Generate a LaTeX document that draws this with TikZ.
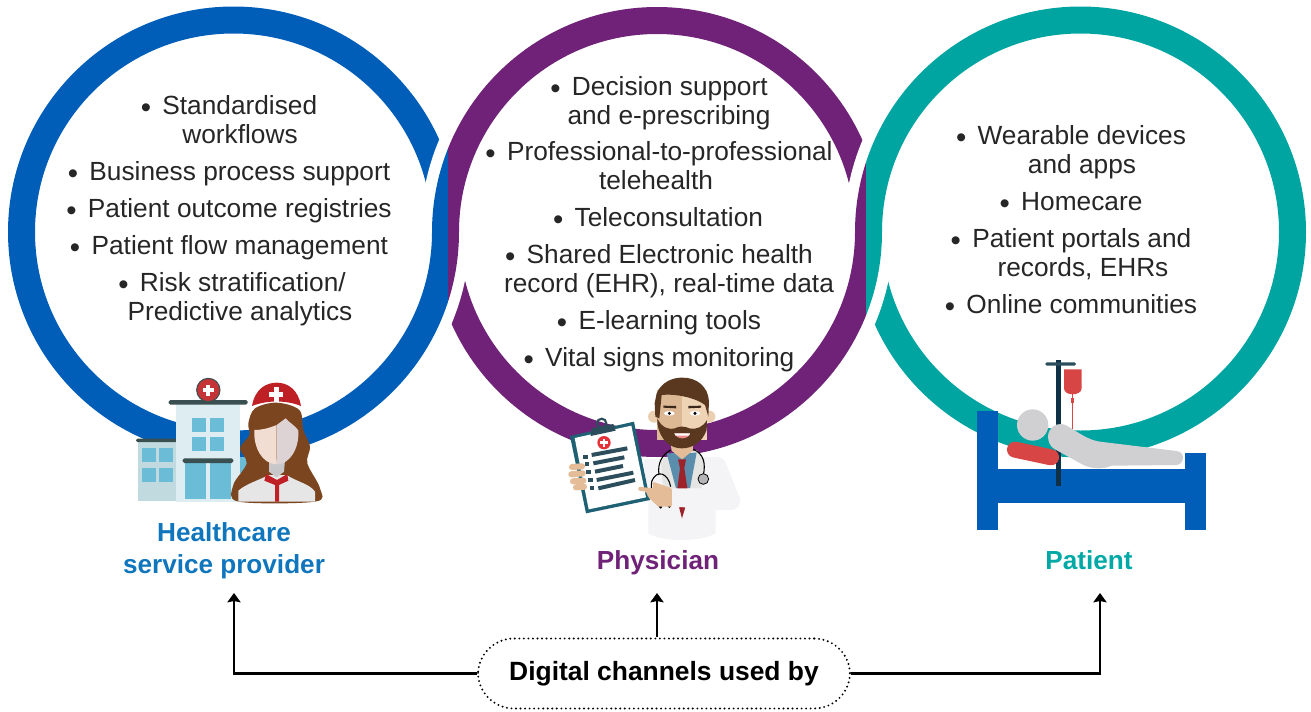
\documentclass[tikz,border=0pt]{standalone}
\usepackage{fontspec}
\usetikzlibrary{arrows.meta}
\setmainfont{Liberation Sans}
\newfontfamily\lightfont{Liberation Sans}[FakeBold=-0.12]
\definecolor{cblue}{HTML}{005EB8}
\definecolor{cpurple}{HTML}{6F2278}
\definecolor{cteal}{HTML}{00A5A1}
\definecolor{lblue}{HTML}{0F75BC}
\definecolor{lteal}{HTML}{00A9A5}
\definecolor{winb}{HTML}{6BBCD6}
\definecolor{darkbar}{HTML}{3A5050}
\definecolor{redc}{HTML}{BE2026}
\definecolor{hair}{HTML}{7A451F}
\definecolor{skin}{HTML}{E4BC98}
\definecolor{coat}{HTML}{F4F4F6}
\definecolor{clipb}{HTML}{1F6174}
\definecolor{ivred}{HTML}{D84545}
\definecolor{pgrey}{HTML}{D0D0D2}
\definecolor{beard}{HTML}{5A3820}
\definecolor{bldA}{HTML}{C0DADF}
\definecolor{bldB}{HTML}{DDEDF1}
\definecolor{crossred}{HTML}{C43437}
\definecolor{nbody}{HTML}{E6E6E6}
\definecolor{nneck}{HTML}{C8C8CA}
\definecolor{nfaceL}{HTML}{F2DDD2}
\definecolor{nfaceR}{HTML}{DDD2D4}
\definecolor{nline}{HTML}{C9A99A}
\definecolor{lapel}{HTML}{E5E5E3}
\definecolor{shirt}{HTML}{5A8EAC}
\definecolor{dtie}{HTML}{9E2229}
\definecolor{ear}{HTML}{EAD0B0}
\definecolor{chest}{HTML}{B5B5B7}
\definecolor{faceL}{HTML}{DDB894}
\definecolor{faceR}{HTML}{EED4B4}
\definecolor{mouth}{HTML}{EE8A8A}
\definecolor{brow}{HTML}{3A281A}
\definecolor{clipdk}{HTML}{2C4E5C}
\definecolor{brightred}{HTML}{E53238}
\definecolor{pole}{HTML}{0F3045}
\newcommand{\bu}{\raisebox{-2.5pt}{\fontsize{22}{22}\selectfont •}\hspace{8.5pt}}
\tikzset{
  itemtxt/.style={anchor=base,inner sep=0pt,font=\lightfont\fontsize{19.7}{21}\selectfont,text=black!85},
  lbl/.style={anchor=base,inner sep=0pt,font=\fontsize{19.6}{21}\selectfont\bfseries},
  conn/.style={draw=black,line width=1.9pt,-{Stealth[length=7pt,width=10pt,inset=1pt]}},
  zoomunits/.style={x=.25pt,y=-.25pt},
}
\begin{document}
\begin{tikzpicture}[x=.75pt,y=-.75pt]
\useasboundingbox (0,0) rectangle (1311,711);
\def\ba{233.5}\def\pa{657}\def\ta{1080.5}\def\cy{232}
\def\Ro{225.5}\def\Ri{198.5}\def\Po{225}\def\Pi{198}\def\Gu{236.5}
% BLUE ring
\fill[cblue,even odd rule] (\ba,\cy) circle[radius=\Ro] (\ba,\cy) circle[radius=\Ri];
\begin{scope}
  \clip (300,0) rectangle (700,\cy);
  \fill[white] (\pa,\cy) circle[radius=\Gu];
\end{scope}
\begin{scope}
  \clip (300,0) rectangle (448,\cy+.5);
  \fill[cblue] (\pa,\cy) circle[radius=\Po];
\end{scope}
% PURPLE ring
\begin{scope}
  \clip (448,0) rectangle (1000,711);
  \fill[cpurple,even odd rule] (\pa,\cy) circle[radius=\Po] (\pa,\cy) circle[radius=\Pi];
  \begin{scope}
    \clip (448,\cy) rectangle (700,711);
    \fill[white] (\ba,\cy) circle[radius=\Gu];
    \fill[cpurple] (\ba,\cy) circle[radius=\Ro];
  \end{scope}
\end{scope}
\begin{scope}
  \clip (700,0) rectangle (1100,\cy);
  \fill[white] (\ta,\cy) circle[radius=\Gu];
\end{scope}
\begin{scope}
  \clip (700,0) rectangle (866,\cy+.5);
  \fill[cpurple] (\ta,\cy) circle[radius=\Ro];
\end{scope}
% TEAL ring
\begin{scope}
  \clip (866,0) rectangle (1311,711);
  \fill[cteal,even odd rule] (\ta,\cy) circle[radius=\Ro] (\ta,\cy) circle[radius=\Ri];
  \begin{scope}
    \clip (866,\cy) rectangle (1100,711);
    \fill[white] (\pa,\cy) circle[radius=\Gu];
    \fill[cteal] (\pa,\cy) circle[radius=\Po];
  \end{scope}
\end{scope}
% Blue items
\node[itemtxt] (b1a) at (229,114) {\bu Standardised};
\node[itemtxt] (b1b) at (240,143) {workflows};
\node[itemtxt] (b2) at (229,180) {\bu Business process support};
\node[itemtxt] (b3) at (229,217) {\bu Patient outcome registries};
\node[itemtxt] (b4) at (229,254) {\bu Patient flow management};
\node[itemtxt] (b5a) at (232,291) {\bu Risk stratification/};
\node[itemtxt] (b5b) at (240,320) {Predictive analytics};
% Purple items
\node[itemtxt] (p1a) at (659,95) {\bu Decision support};
\node[itemtxt] (p1b) at (669,124) {and e-prescribing};
\node[itemtxt] (p2a) at (659,160) {\bu Professional-to-professional};
\node[itemtxt] (p2b) at (656,189) {telehealth};
\node[itemtxt] (p3) at (658,226) {\bu Teleconsultation};
\node[itemtxt] (p4a) at (659,263) {\bu Shared Electronic health};
\node[itemtxt] (p4b) at (669,292) {record (EHR), real-time data};
\node[itemtxt] (p5) at (659,329) {\bu E-learning tools};
\node[itemtxt] (p6) at (659,366) {\bu Vital signs monitoring};
% Teal items
\node[itemtxt] (t1a) at (1071,144) {\bu Wearable devices};
\node[itemtxt] (t1b) at (1082,173) {and apps};
\node[itemtxt] (t2) at (1071,210) {\bu Homecare};
\node[itemtxt] (t3a) at (1071,247) {\bu Patient portals and};
\node[itemtxt] (t3b) at (1083,276) {records, EHRs};
\node[itemtxt] (t4) at (1071,313) {\bu Online communities};
% Labels
\node[lbl,text=lblue] (l1a) at (224,541) {Healthcare};
\node[lbl,text=lblue] (l1b) at (224,573) {service provider};
\node[lbl,text=cpurple] (l2) at (658,569) {Physician};
\node[lbl,text=lteal] (l3) at (1089,569) {Patient};
% Bottom box
\node[draw=black,line width=1.6pt,line cap=round,dash pattern=on 0pt off 3.4pt,rounded corners=27pt,
  minimum width=279pt,minimum height=52.5pt,inner sep=0pt,font=\fontsize{19.8}{21}\selectfont\bfseries]
  (box) at (664,673.5) {\raisebox{-2.5pt}{Digital channels used by}};
\coordinate (al) at (234,593);
\coordinate (am) at (657,593);
\coordinate (ar) at (1100,593);
\draw[conn] (box.west) -| (al);
\draw[conn] (box.north -| am) -- (am);
\draw[conn] (box.east) -| (ar);
% Hospital + nurse (zoom coordinates)
\begin{scope}[xshift=90pt,yshift=-270pt,zoomunits]
  \fill[bldA] (54,245) rectangle (170,422);
  \fill[darkbar,rounded corners=1pt] (48,236) rectangle (170,246);
  \foreach \a in {66,117}\foreach \b in {264,324}{\fill[winb] (\a,\b) rectangle +(42,42);}
  \fill[bldB] (168,130) rectangle (360,425);
  \fill[darkbar,rounded corners=1.2pt] (146,120) rectangle (383,134);
  \foreach \a in {216,270}\foreach \b in {174,231}{\fill[winb] (\a,\b) rectangle +(42,42);}
  \fill[winb] (195,305) rectangle (258,417);
  \fill[winb] (270,305) rectangle (333,417);
  \fill[darkbar,rounded corners=1.2pt] (188,295) rectangle (340,309);
  \fill[winb] (360,290) rectangle (380,340);
  \draw[darkbar,line width=.8pt,fill=crossred] (265,90) circle[radius=35];
  \fill[white] (249,84) rectangle (281,97);
  \fill[white] (258,74) rectangle (271,107);
  % nurse
  \fill[hair] plot[smooth cycle,tension=.55] coordinates {(470,128) (405,145) (385,190) (388,225) (360,265) (380,310) (340,375) (356,425) (585,425) (600,385) (562,310) (570,260) (550,210) (538,150)};
  \fill[nbody] (355,425) -- (355,392) .. controls (380,370) and (420,360) .. (445,345) -- (500,345) .. controls (530,365) and (570,372) .. (585,395) -- (585,425) -- cycle;
  \fill[nneck] (447,300) -- (495,300) -- (492,335) -- (470,352) -- (447,335) -- cycle;
  \fill[nfaceL] (470,195) .. controls (445,205) and (425,210) .. (403,210) .. controls (400,260) and (425,312) .. (470,313) -- cycle;
  \fill[nfaceR] (470,195) -- (497,175) .. controls (510,190) and (530,200) .. (535,212) .. controls (538,265) and (510,313) .. (470,313) -- cycle;
  \draw[nline,line width=.4pt] (470,195) -- (470,295);
  \fill[redc] (438,342) -- (471,360) -- (502,342) -- (505,362) -- (477,375) -- (477,425) -- (465,425) -- (465,375) -- (433,362) -- cycle;
  \fill[redc] (396,138) .. controls (405,85) and (440,68) .. (470,68) .. controls (505,68) and (535,90) .. (543,138) .. controls (500,120) and (440,120) .. (396,138) -- cycle;
  \fill[white] (447,95) rectangle (490,110);
  \fill[white] (461,80) rectangle (476,125);
\end{scope}
% Doctor
\begin{scope}[xshift=412.5pt,yshift=-270pt,zoomunits]
  \fill[coat] (280,298) -- (505,290) .. controls (520,295) and (525,300) .. (530,315) -- (570,415) .. controls (572,440) and (560,450) .. (540,450) -- (497,450) -- (497,520) .. controls (470,535) and (430,540) .. (397,540) .. controls (360,540) and (320,535) .. (295,520) -- (295,420) -- cycle;
  \fill[lapel] (332,295) -- (440,270) -- (465,300) -- (455,385) -- (340,385) -- cycle;
  \fill[shirt] (350,280) -- (440,278) -- (420,385) -- (378,385) -- cycle;
  \fill[dtie] (384,298) -- (408,298) -- (403,325) -- (412,385) -- (405,445) -- (396,475) -- (388,445) -- (382,385) -- (390,325) -- cycle;
  \fill[ear] (312,170) circle[radius=18];
  \fill[ear] (478,170) circle[radius=18];
  \fill[skin] (362,250) -- (430,250) -- (428,272) -- (396,298) -- (365,272) -- cycle;
  \draw[black,line width=.8pt] (362,270) .. controls (335,285) and (322,310) .. (327,345);
  \draw[black,line width=.8pt] (430,268) .. controls (460,280) and (468,310) .. (460,345);
  \draw[black,line width=.8pt] (362,380) .. controls (355,340) and (320,325) .. (305,365) .. controls (300,400) and (315,430) .. (330,440);
  \fill[black] (332,441) circle[radius=5];
  \fill[black] (358,439) circle[radius=5];
  \draw[black,line width=.6pt,fill=chest] (460,357) circle[radius=16];
  \fill[faceL] (322,90) rectangle (396,240);
  \fill[faceR] (396,90) rectangle (472,240);
  \fill[beard] (322,175) .. controls (335,205) and (360,210) .. (375,205) .. controls (385,198) and (405,198) .. (418,205) .. controls (440,210) and (460,200) .. (471,180) -- (470,210) .. controls (455,250) and (425,265) .. (395,265) .. controls (360,265) and (330,240) .. (322,190) -- cycle;
  \fill[mouth] (373,220) -- (420,220) .. controls (415,240) and (380,240) .. (373,220) -- cycle;
  \fill[white] (373,220) -- (420,220) -- (417,227) -- (377,227) -- cycle;
  \fill[beard] (320,100) .. controls (335,65) and (370,52) .. (397,53) .. controls (440,52) and (475,80) .. (477,125) -- (475,170) -- (465,135) .. controls (440,115) and (380,100) .. (335,105) -- (328,175) -- (316,170) -- (314,130) -- cycle;
  \fill[brow] (340,137) -- (378,138) -- (378,145) -- (340,143) -- cycle;
  \fill[brow] (415,138) -- (453,137) -- (453,143) -- (415,145) -- cycle;
  \fill[white] (358,160) ellipse[x radius=16,y radius=7];
  \fill[white] (435,160) ellipse[x radius=16,y radius=7];
  \fill[black] (358,160) circle[radius=5];
  \fill[black] (435,160) circle[radius=5];
  % clipboard
  \fill[clipb] (60,228) -- (252,185) -- (300,420) -- (108,460) -- cycle;
  \fill[white] (74,234) -- (244,197) -- (288,412) -- (116,448) -- cycle;
  \draw[clipdk,line width=1.6pt] (155,190) circle[radius=14];
  \fill[clipdk] (125,205) -- (190,192) -- (197,212) -- (122,228) -- cycle;
  \fill[brightred] (162,248) circle[radius=20];
  \fill[white] (150,244) -- (174,244) -- (174,252) -- (150,252) -- cycle;
  \fill[white] (158,236) rectangle (166,260);
  \foreach \xa/\ya/\xb/\yb in {125/285/232/265,130/310/223/292,135/335/219/318,140/360/250/338,145/385/255/360}{
    \draw[clipdk,line width=3pt] (\xa,\ya) -- (\xb,\yb);}
  \foreach \xa/\ya in {106/290,111/313,116/337,121/360,126/385}{
    \fill[clipdk] (\xa-7,\ya-6) rectangle (\xa+7,\ya+6);}
  \foreach \xa/\ya/\xb/\yb in {66/321/96/319,64/343/98/340,69/364/100/362,78/382/102/380}{
    \draw[skin,line width=4.6pt,line cap=round] (\xa,\ya) -- (\xb,\yb);}
  % pointing hand and sleeve
  \fill[skin,rounded corners=1pt] (265,380) -- (310,385) -- (308,365) -- (366,385) -- (366,440) -- (325,440) -- (295,412) -- (288,395) -- (265,392) -- cycle;
  \fill[coat,rounded corners=2pt] (366,385) -- (545,385) -- (570,420) -- (555,450) -- (366,440) -- cycle;
\end{scope}
% Patient
\begin{scope}[xshift=720pt,yshift=-262.5pt,zoomunits]
  \fill[cblue] (51,183) rectangle (114,540);
  \fill[cblue] (675,309) rectangle (738,540);
  \fill[cblue] (114,357) rectangle (675,459);
  \fill[pole] (288,30) rectangle (303,408);
  \fill[clipdk,rounded corners=1.1pt] (256,37) rectangle (348,47);
  \draw[ivred,line width=.7pt] (338,130) -- (338,240);
  \fill[ivred] (333,145) rectangle (343,158);
  \fill[ivred] (312,58) -- (365,58) -- (365,115) .. controls (365,127) and (350,133) .. (338,133) .. controls (325,133) and (312,127) .. (312,115) -- cycle;
  \fill[pgrey] (218,225) circle[radius=47];
  \fill[pgrey] (264,258) .. controls (266,235) and (285,220) .. (305,222) .. controls (330,225) and (370,268) .. (420,275) -- (650,303) .. controls (662,305) and (669,312) .. (669,323) .. controls (669,336) and (660,344) .. (650,345) -- (455,347) .. controls (430,358) and (400,358) .. (370,345) -- (285,298) .. controls (270,290) and (264,275) .. (264,258) -- cycle;
  \draw[ivred,line width=12pt,line cap=round] (165,299) -- (273,322);
\end{scope}
\end{tikzpicture}
\end{document}
